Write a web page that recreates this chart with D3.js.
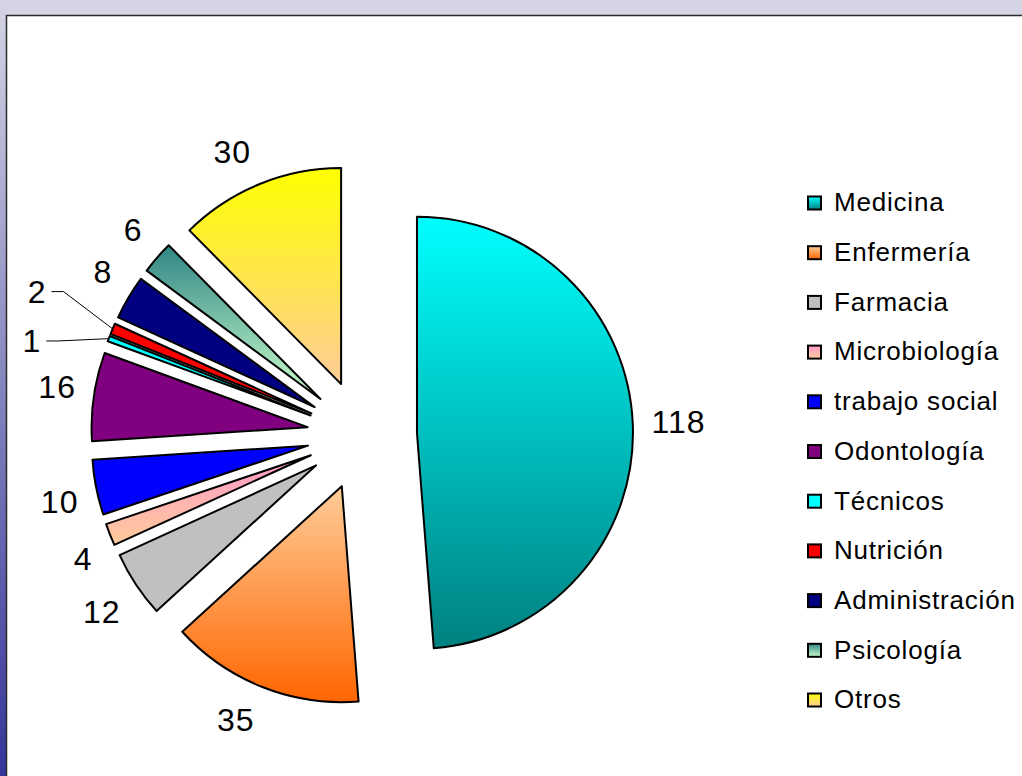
<!DOCTYPE html>
<html>
<head>
<meta charset="utf-8">
<script src="https://cdn.jsdelivr.net/npm/d3@7"></script>
<style>
  html, body { margin: 0; padding: 0; background: #d4d4e4; }
  svg { display: block; }
</style>
</head>
<body>
<div id="chart"></div>
<script>
// data, clockwise from 12 o'clock
const categories = ["Medicina", "Enfermería", "Farmacia", "Microbiología", "trabajo social",
                    "Odontología", "Técnicos", "Nutrición", "Administración", "Psicología", "Otros"];
const values = [118, 35, 12, 4, 10, 16, 1, 2, 8, 6, 30];
// fill: top colour / bottom colour of each slice (same = flat)
const topColors    = ["#00ffff", "#ffcc99", "#c0c0c0", "#ff99cc", "#0000ff", "#800080", "#00ffff", "#ff0000", "#000080", "#2f8585", "#ffff00"];
const bottomColors = ["#008080", "#ff6600", "#c0c0c0", "#ffcc99", "#0000ff", "#800080", "#00ffff", "#ff0000", "#000080", "#ccffcc", "#ffcc99"];

function renderPie(id) {
    const width = 1022, height = 776;
    const center = { x: 362, y: 435 };
    const radius = 216;
    const explode = 55;
    const labelGap = 16;
    const fontSize = 32;
    // tiny slices get their label pulled out with a leader line
    const labelNudge = { "Técnicos": [-50, 26], "Nutrición": [-49, -13] };

    const svg = d3.select(`#${id}`)
                .append("svg")
                .attr("width", width)
                .attr("height", height);

    const defs = svg.append("defs");

    const side = defs.append("linearGradient")
                .attr("id", "side").attr("x1", 0).attr("y1", 0).attr("x2", 0).attr("y2", 1);
    side.append("stop").attr("offset", "0%").attr("stop-color", "#d4d4e4");
    side.append("stop").attr("offset", "100%").attr("stop-color", "#35359a");

    categories.forEach((c, i) => {
        const g = defs.append("linearGradient")
                .attr("id", `grad${i}`).attr("x1", 0).attr("y1", 0).attr("x2", 0).attr("y2", 1);
        g.append("stop").attr("offset", "0%").attr("stop-color", topColors[i]);
        g.append("stop").attr("offset", "100%").attr("stop-color", bottomColors[i]);
    });

    // frame
    svg.append("rect").attr("width", width).attr("height", height).attr("fill", "#d4d4e4");
    svg.append("rect").attr("x", 0).attr("y", 0).attr("width", 7).attr("height", height).attr("fill", "url(#side)");
    svg.append("rect")
        .attr("x", 6.5).attr("y", 15.5)
        .attr("width", width).attr("height", height)
        .attr("fill", "#ffffff").attr("stroke", "#2a2a2a").attr("stroke-width", 1.5);

    const pie = d3.pie().sort(null).value(d => d.value)
                .startAngle(0).endAngle(2 * Math.PI);
    const arcs = pie(categories.map((c, i) => ({ name: c, value: values[i], i })));
    const arc = d3.arc().innerRadius(0).outerRadius(radius);

    const dirOf = d => {
        const a = (d.startAngle + d.endAngle) / 2;
        return [Math.sin(a), -Math.cos(a)];
    };
    const clamp = v => Math.max(-1, Math.min(1, v));

    svg.append("g")
        .selectAll("path")
        .data(arcs)
        .enter()
        .append("path")
        .attr("transform", d => {
            const [dx, dy] = dirOf(d);
            return `translate(${center.x + dx * explode}, ${center.y + dy * explode})`;
        })
        .attr("fill", d => `url(#grad${d.data.i})`)
        .attr("stroke", "#000")
        .attr("stroke-width", 2)
        .attr("stroke-linejoin", "round")
        .attr("d", arc);

    // data labels
    const labels = svg.append("g")
                .attr("font-family", "'Liberation Sans', Arial, sans-serif")
                .attr("font-size", fontSize)
                .attr("letter-spacing", 1);

    arcs.forEach(d => {
        const [dx, dy] = dirOf(d);
        const vx = center.x + dx * explode, vy = center.y + dy * explode;
        const txt = String(d.data.value);
        const halfW = (txt.length * 0.556 * fontSize + 6) / 2, halfH = 18;
        let lx = vx + dx * (radius + labelGap) + clamp(dx * 3) * halfW;
        let ly = vy + dy * (radius + labelGap) + clamp(dy * 3) * halfH;
        const nudge = labelNudge[d.data.name];
        if (nudge) {
            lx += nudge[0]; ly += nudge[1];
            const ex = vx + dx * radius, ey = vy + dy * radius;
            const sx = lx + 14.5;
            labels.append("path")
                .attr("d", `M${sx},${ly} L${sx + 12},${ly} L${ex},${ey}`)
                .attr("fill", "none").attr("stroke", "#000").attr("stroke-width", 1);
        }
        labels.append("text")
            .attr("x", lx).attr("y", ly)
            .attr("dy", "0.36em")
            .attr("text-anchor", "middle")
            .attr("fill", "#000")
            .text(txt);
    });

    // legend
    const legendY = d3.scalePoint().domain(categories).range([202, 699]);
    const legend = svg.append("g")
                .attr("font-family", "'Liberation Sans', Arial, sans-serif")
                .attr("font-size", 26)
                .attr("letter-spacing", 0.8);
    const item = legend.selectAll("g")
                .data(categories)
                .enter()
                .append("g")
                .attr("transform", c => `translate(0, ${legendY(c)})`);
    item.append("rect")
        .attr("x", 808).attr("y", -5.5)
        .attr("width", 13).attr("height", 13)
        .attr("fill", (c, i) => `url(#grad${i})`)
        .attr("stroke", "#000").attr("stroke-width", 2);
    item.append("text")
        .attr("x", 834).attr("dy", "0.36em")
        .attr("fill", "#000")
        .text(c => c);
}

renderPie("chart");
</script>
</body>
</html>
